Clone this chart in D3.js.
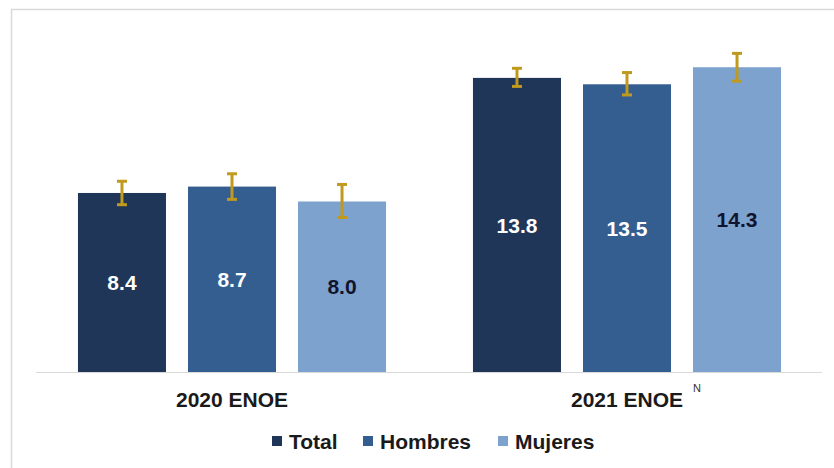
<!DOCTYPE html>
<html>
<head>
<meta charset="utf-8">
<script src="https://cdn.jsdelivr.net/npm/d3@7"></script>
<style>
  body { margin: 0; background: #fff; }
  svg { display: block; font-family: "Liberation Sans", Arial, sans-serif; }
</style>
</head>
<body>
<div id="container"></div>
<script>
// values
var groups = ["2020 ENOE", "2021 ENOE"];
var series = ["Total", "Hombres", "Mujeres"];
var total = [8.4, 13.8];
var hombres = [8.7, 13.5];
var mujeres = [8.0, 14.3];
// confidence interval ends (approx.)
var lowTotal = [7.85, 13.4], highTotal = [8.95, 14.25];
var lowHombres = [8.1, 13.0], highHombres = [9.3, 14.05];
var lowMujeres = [7.25, 13.65], highMujeres = [8.8, 14.95];

var colors = ["#1f3658", "#355e90", "#7ca2cd"];
var labelColors = ["#ffffff", "#ffffff", "#10142e"];

var width = 834, height = 468;

var svg = d3.select("#container").append("svg")
  .attr("width", width)
  .attr("height", height);

// light frame
svg.append("rect")
  .attr("x", 11.5).attr("y", 9.5)
  .attr("width", 900).attr("height", 500)
  .attr("fill", "none")
  .attr("stroke", "#d9d9d9")
  .attr("stroke-width", 1.5);

var rows = [];
groups.forEach(function (g, i) {
  rows.push({ group: g, s: 0, value: total[i], lo: lowTotal[i], hi: highTotal[i] });
  rows.push({ group: g, s: 1, value: hombres[i], lo: lowHombres[i], hi: highHombres[i] });
  rows.push({ group: g, s: 2, value: mujeres[i], lo: lowMujeres[i], hi: highMujeres[i] });
});

var x0 = d3.scaleBand().domain(groups).range([34.5, 824.5]).padding(0);
var x1 = d3.scaleBand().domain([0, 1, 2]).range([0, x0.bandwidth()])
  .paddingInner(0.2).paddingOuter(0.395);
var y = d3.scaleLinear().domain([0, 16]).range([372, 31]);

// axis baseline
svg.append("line")
  .attr("x1", 36).attr("x2", 822)
  .attr("y1", y(0) + 0.5).attr("y2", y(0) + 0.5)
  .attr("stroke", "#d9d9d9")
  .attr("stroke-width", 1);

var bar = svg.append("g").selectAll("g")
  .data(rows)
  .enter()
  .append("g")
  .attr("transform", function (d) { return "translate(" + (x0(d.group) + x1(d.s)) + ",0)"; });

bar.append("rect")
  .attr("x", 0)
  .attr("y", function (d) { return y(d.value); })
  .attr("width", x1.bandwidth())
  .attr("height", function (d) { return y(0) - y(d.value); })
  .attr("fill", function (d) { return colors[d.s]; });

bar.append("text")
  .attr("x", x1.bandwidth() / 2)
  .attr("y", function (d) { return (y(d.value) + y(0)) / 2; })
  .attr("dy", "0.36em")
  .attr("text-anchor", "middle")
  .attr("font-size", 21)
  .attr("font-weight", "bold")
  .attr("fill", function (d) { return labelColors[d.s]; })
  .text(function (d) { return d.value.toFixed(1); });

// error bars
var errColor = "#bf9a1e";
var cx = x1.bandwidth() / 2;
bar.append("line")
  .attr("x1", cx).attr("x2", cx)
  .attr("y1", function (d) { return y(d.hi); })
  .attr("y2", function (d) { return y(d.lo); })
  .attr("stroke", errColor).attr("stroke-width", 3);
bar.append("line")
  .attr("x1", cx - 5).attr("x2", cx + 5)
  .attr("y1", function (d) { return y(d.hi); })
  .attr("y2", function (d) { return y(d.hi); })
  .attr("stroke", errColor).attr("stroke-width", 3);
bar.append("line")
  .attr("x1", cx - 5).attr("x2", cx + 5)
  .attr("y1", function (d) { return y(d.lo); })
  .attr("y2", function (d) { return y(d.lo); })
  .attr("stroke", errColor).attr("stroke-width", 3);

// category labels
var xAxis = d3.axisBottom(x0).tickSize(0).tickPadding(0);
var xAxisG = svg.append("g")
  .attr("transform", "translate(0," + (y(0) + 20) + ")")
  .call(xAxis);
xAxisG.select(".domain").remove();
xAxisG.selectAll("text")
  .attr("font-size", 21)
  .attr("font-weight", "bold")
  .attr("font-family", "Liberation Sans, Arial, sans-serif")
  .attr("fill", "#1a1a1a");

// superscript N on 2021
svg.append("text")
  .attr("x", x0("2021 ENOE") + x0.bandwidth() / 2 + 66)
  .attr("y", y(0) + 20)
  .attr("font-size", 11)
  .attr("fill", "#333")
  .text("N");

// legend
var legendX = [272, 363, 498];
var legend = svg.append("g").attr("transform", "translate(0,441)")
  .selectAll("g")
  .data(series)
  .enter()
  .append("g")
  .attr("transform", function (d, i) { return "translate(" + legendX[i] + ",0)"; });
legend.append("rect")
  .attr("x", 0).attr("y", -5)
  .attr("width", 10).attr("height", 10)
  .attr("fill", function (d, i) { return colors[i]; });
legend.append("text")
  .attr("x", 17)
  .attr("dy", "0.36em")
  .attr("font-size", 21)
  .attr("font-weight", "bold")
  .attr("fill", "#1a1a1a")
  .text(function (d) { return d; });
</script>
</body>
</html>
